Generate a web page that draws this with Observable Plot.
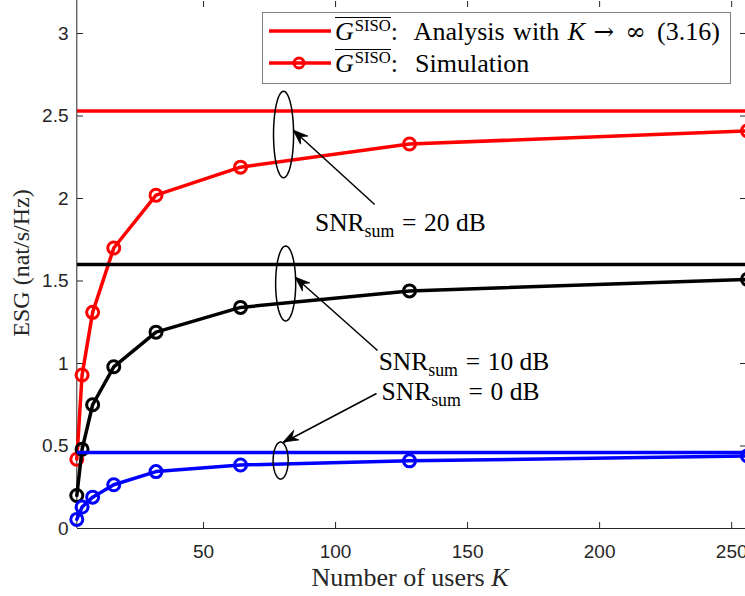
<!DOCTYPE html>
<html>
<head>
<meta charset="utf-8">
<script src="https://cdn.jsdelivr.net/npm/d3@7"></script>
<script src="https://cdn.jsdelivr.net/npm/@observablehq/plot@0.6"></script>
<style>
  html, body { margin: 0; padding: 0; background: #fff; }
  #wrap { position: relative; width: 745px; height: 596px; overflow: hidden; background: #fff; }
  .serif { font-family: "Liberation Serif", "DejaVu Serif", serif; color: #000; position: absolute; white-space: nowrap; }
  .lbl { font-size: 25.5px; transform: translateY(-50%); line-height: 1; }
  .sub { font-size: 70%; position: relative; top: 0.32em; }
  .eq { margin: 0 0.3em; }
  #ylab { font-size: 24px; transform: translate(-50%, -50%) rotate(-90deg); color: #262626; line-height: 1; }
  #xlab { font-size: 26px; transform: translate(-50%, -50%); color: #262626; line-height: 1; }
  #legend { position: absolute; background: #fff; border: 1px solid #808080; box-sizing: border-box; }
  .row { position: absolute; left: 0; height: 30px; display: flex; align-items: center; }
  .row svg { flex: none; }
  .ltxt { font-family: "Liberation Serif", "DejaVu Serif", serif; font-size: 26px; word-spacing: 2px; white-space: nowrap; margin-left: 3px; line-height: 1; }
  .ov { display: inline-block; border-top: 1.3px solid #000; padding-top: 1px; line-height: 1; }
  .ov i { font-style: italic; }
  .ov sup { font-size: 64%; vertical-align: 0.55em; line-height: 0; margin-left: 1px; }
  .sym { display: inline-block; width: 1.05em; text-align: center; font-family: "DejaVu Serif", serif; font-size: 0.95em; }
  .rel { margin: 0 0.22em; }
</style>
</head>
<body>
<div id="wrap"></div>
<script>
// ---- data ----
const users = [2, 4, 8, 16, 32, 64, 128, 256];
const sim20dB = [0.42, 0.93, 1.31, 1.70, 2.02, 2.19, 2.33, 2.41];
const sim10dB = [0.20, 0.48, 0.75, 0.98, 1.19, 1.34, 1.44, 1.51];
const sim0dB  = [0.055, 0.13, 0.19, 0.265, 0.345, 0.385, 0.41, 0.44];
const limit20dB = 2.53;
const limit10dB = 1.60;
const limit0dB = 0.46;
const snrNames = ["20 dB", "10 dB", "0 dB"];
const seriesColors = ["#ff0000", "#000000", "#0000ff"];
const xTicks = [50, 100, 150, 200, 250];
const yTicks = [0, 0.5, 1, 1.5, 2, 2.5, 3];

// annotation anchors (data coordinates: K, ESG)
const ellipseK  = [80.3, 81.1, 79.2];
const ellipseV  = [2.388, 1.485, 0.412];
const ellipseRK = [3.8, 3.8, 2.85];
const ellipseRV = [0.262, 0.227, 0.112];
const arrowFromK = [114.8, 115.9, 115.5];
const arrowFromV = [1.964, 1.079, 0.818];
const arrowToK   = [84.1, 84.8, 80.3];
const arrowToV   = [2.412, 1.521, 0.521];
const labelK = [92.4, 116.5, 117.6];
const labelV = [1.848, 1.006, 0.824];

// ---- tables ----
const sims = [sim20dB, sim10dB, sim0dB];
const limits = [limit20dB, limit10dB, limit0dB];
const simRows = sims.map((vals, s) => users.map((k, i) => ({K: k, v: vals[i], s})));
const ellipses = ellipseK.map((k, j) => d3.range(0, 73).map(a => {
  const t = a / 72 * 2 * Math.PI;
  return {K: k + ellipseRK[j] * Math.cos(t), v: ellipseV[j] + ellipseRV[j] * Math.sin(t), j};
}));
const arrows = arrowFromK.map((k, j) => ({x1: k, y1: arrowFromV[j], x2: arrowToK[j], y2: arrowToV[j]}));

// filled notched arrowheads (MATLAB "vback2" style), placed through the scales
function arrowHeads(index, scales) {
  const g = d3.create("svg:g");
  for (const a of arrows) {
    const x1 = scales.x(a.x1), y1 = scales.y(a.y1), x2 = scales.x(a.x2), y2 = scales.y(a.y2);
    const ang = Math.atan2(y2 - y1, x2 - x1);
    const L = 15, W = 5.5, N = 10;
    const ux = Math.cos(ang), uy = Math.sin(ang), px = -uy, py = ux;
    const pts = [
      [x2, y2],
      [x2 - L * ux + W * px, y2 - L * uy + W * py],
      [x2 - N * ux, y2 - N * uy],
      [x2 - L * ux - W * px, y2 - L * uy - W * py]
    ];
    g.append("path").attr("d", "M" + pts.map(p => p.join(",")).join("L") + "Z").attr("fill", "#000").attr("stroke", "#000").attr("stroke-width", 0.8).attr("stroke-linejoin", "miter");
  }
  return g.node();
}

const axisColor = "#262626";
const marks = [];
// axes (MATLAB style: inward ticks on all four sides)
marks.push(Plot.ruleX([2], {stroke: axisColor, strokeWidth: 1}));
marks.push(Plot.ruleY([0], {stroke: axisColor, strokeWidth: 1}));
marks.push(Plot.axisX({anchor: "bottom", ticks: xTicks, tickSize: 0, tickPadding: 16, label: null, tickFormat: d => String(d), fill: axisColor}));
marks.push(Plot.axisY({anchor: "left", ticks: yTicks, tickSize: 0, tickPadding: 9, label: null, tickFormat: d => String(d), fill: axisColor}));
marks.push(Plot.axisX({anchor: "bottom", ticks: xTicks, tickSize: -6, tickFormat: () => "", label: null, stroke: axisColor}));
marks.push(Plot.axisY({anchor: "left", ticks: yTicks, tickSize: -6, tickFormat: () => "", label: null, stroke: axisColor}));
marks.push(Plot.axisX({anchor: "top", ticks: xTicks, tickSize: -6, tickFormat: () => "", label: null, stroke: axisColor}));
marks.push(Plot.axisY({anchor: "right", ticks: yTicks, tickSize: -6, tickFormat: () => "", label: null, stroke: axisColor}));
for (let s = 0; s < 3; s++) {
  marks.push(Plot.ruleY([limits[s]], {stroke: seriesColors[s], strokeWidth: 3.5}));
  marks.push(Plot.line(simRows[s], {x: "K", y: "v", stroke: seriesColors[s], strokeWidth: 3.5}));
  marks.push(Plot.dot(simRows[s], {x: "K", y: "v", r: 6, stroke: seriesColors[s], strokeWidth: 3, fill: "none"}));
}
for (const e of ellipses) marks.push(Plot.line(e, {x: "K", y: "v", stroke: "#000", strokeWidth: 1.5}));
marks.push(Plot.link(arrows, {x1: "x1", y1: "y1", x2: "x2", y2: "y2", stroke: "#000", strokeWidth: 1.5}));
marks.push(arrowHeads);

const plot = Plot.plot({
  width: 745,
  height: 596,
  marginLeft: 77,
  marginRight: 0,
  marginTop: 0,
  marginBottom: 68,
  x: {domain: [2, 256], range: [76.3, 747]},
  y: {domain: [0, 3.2]},
  style: {fontFamily: "'Liberation Sans', Arial, sans-serif", fontSize: "19px", color: axisColor, background: "white", overflow: "hidden"},
  marks
});

const wrap = document.getElementById("wrap");
wrap.appendChild(plot);
const sx = plot.scale("x"), sy = plot.scale("y");

// SNR labels
snrNames.forEach((name, j) => {
  const d = document.createElement("div");
  d.className = "serif lbl";
  d.innerHTML = `SNR<span class="sub">sum</span><span class="eq">=</span>${name}`;
  d.style.left = sx.apply(labelK[j]) + "px";
  d.style.top = sy.apply(labelV[j]) + "px";
  wrap.appendChild(d);
});

// axis titles
const yl = document.createElement("div");
yl.className = "serif"; yl.id = "ylab";
yl.textContent = "ESG (nat/s/Hz)";
yl.style.left = "21px";
yl.style.top = sy.apply(1.606) + "px";
wrap.appendChild(yl);

const xl = document.createElement("div");
xl.className = "serif"; xl.id = "xlab";
xl.innerHTML = "Number of users <i>K</i>";
xl.style.left = "410px";
xl.style.top = "578px";
wrap.appendChild(xl);

// legend
const legendTexts = [
  `Analysis with <i>K</i><span class="rel"><span class="sym">&rarr;</span></span><span class="sym">&infin;</span> (3.16)`,
  "Simulation"
];
const leg = document.createElement("div");
leg.id = "legend";
leg.style.left = "262px"; leg.style.top = "12px"; leg.style.width = "469px"; leg.style.height = "72px";
legendTexts.forEach((t, i) => {
  const row = document.createElement("div");
  row.className = "row";
  row.style.top = (i === 0 ? 3 : 35) + "px";
  row.style.left = "5px";
  row.innerHTML = `<svg width="64" height="30"><line x1="1" x2="63" y1="15" y2="15" stroke="${seriesColors[0]}" stroke-width="3.5"/>` +
    (i === 1 ? `<circle cx="31" cy="15" r="5" fill="none" stroke="${seriesColors[0]}" stroke-width="3"/>` : "") +
    `</svg><span class="ltxt"><span class="ov"><i>G</i><sup>SISO</sup></span>:&nbsp; ${t}</span>`;
  leg.appendChild(row);
});
wrap.appendChild(leg);
</script>
</body>
</html>
